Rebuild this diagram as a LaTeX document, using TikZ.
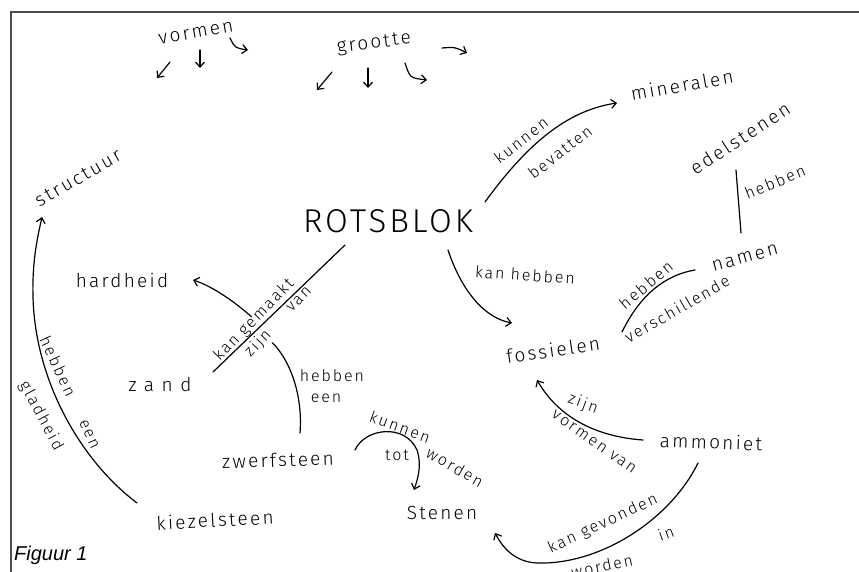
\documentclass[tikz,border=0pt]{standalone}
\usepackage{fontspec}
\setmainfont{Liberation Sans}
\newfontfamily\hand[LetterSpace=12]{Fira Sans Light}
\newfontfamily\handbig[LetterSpace=9]{Fira Sans Light}
\usetikzlibrary{arrows.meta}
\begin{document}
\begin{tikzpicture}[x=1pt,y=-1pt,
  term/.style={font=\hand\fontsize{19}{21}\selectfont, inner sep=0pt},
  lbl/.style={font=\hand\fontsize{16}{18}\selectfont, inner sep=0pt},
  con/.style={line width=1.2pt, line cap=round, line join=round},
  arr/.style={con, -{Straight Barb[length=5pt,width=9pt,line width=1.2pt]}},
]
\useasboundingbox (0,0) rectangle (859,572);
\draw[line width=2pt, color=black!70] (11,572) -- (11,12) -- (859,12);

% concepts
\node[term, rotate=10] (vormen) at (196,33) {vormen};
\node[term, rotate=7] (grootte) at (374,44) {grootte};
\node[term, rotate=30] (struct) at (78,178) {structuur};
\node[inner sep=0pt, font=\handbig\fontsize{33}{36}\selectfont] (rots) at (388,221) {ROTSBLOK};
\node[term, rotate=10] (miner) at (682,85) {mineralen};
\node[term, rotate=33] (edel) at (740,138) {edelstenen};
\node[term, rotate=15] (namen) at (745,258) {namen};
\node[term] (hard) at (122,280) {hardheid};
\node[term, font=\hand\fontsize{19}{21}\selectfont\addfontfeature{LetterSpace=40}] (zand) at (160,385) {zand};
\node[term, rotate=8] (foss) at (553,350) {fossielen};
\node[term, rotate=-2] (ammon) at (711,442) {ammoniet};
\node[term, rotate=2] (zwerf) at (278,460) {zwerfsteen};
\node[term, rotate=3] (kiezel) at (215,520) {kiezelsteen};
\node[term] (stenen) at (442,513) {Stenen};
\node[font=\itshape\fontsize{20}{22}\selectfont, anchor=west, inner sep=0pt] (fig) at (14,555) {Figuur 1};

% link labels
\node[lbl, rotate=38] (l1a) at (521,140) {kunnen};
\node[lbl, rotate=38] (l1b) at (560,152) {bevatten};
\node[lbl, rotate=-4] (l2) at (525,275) {kan hebben};
\node[lbl, rotate=40] (l3a) at (646,285) {hebben};
\node[lbl, rotate=30] (l3b) at (677,309) {verschillende};
\node[lbl, rotate=22] (l4) at (775,182) {hebben};
\node[lbl, rotate=-20] (l5a) at (583,404) {zijn};
\node[lbl, rotate=-35] (l5b) at (594,442) {vormen van};
\node[lbl, rotate=25] (l6a) at (603,524) {kan gevonden};
\node[lbl, rotate=20] (l6b) at (666,533) {in};
\node[lbl, rotate=12] (l6c) at (602,566) {worden};
\node[lbl, rotate=-20] (l7a) at (400,427) {kunnen};
\node[lbl] (l7b) at (397,455) {tot};
\node[lbl, rotate=-30] (l7c) at (455,467) {worden};
\node[lbl] (l8a) at (332,376) {hebben};
\node[lbl] (l8b) at (326,398) {een};
\node[lbl, rotate=46, anchor=south, inner sep=1pt] (l9a) at (260.5,326.2) {kan gemaakt};
\node[lbl, rotate=46, anchor=north, inner sep=1pt] (l9b) at (251.8,337.3) {zijn};
\node[lbl, rotate=46, anchor=north, inner sep=1pt] (l9c) at (295,295.7) {van};
\node[lbl, rotate=-65] (l10a) at (58,366) {hebben};
\node[lbl, rotate=-65] (l10b) at (89,434) {een};
\node[lbl, rotate=-62] (l10c) at (41,416) {gladheid};

% connector end points
\coordinate (r1) at (485,202);  \coordinate (m1) at (617,103);
\coordinate (r2) at (448,250);  \coordinate (f1) at (512,323);
\coordinate (f2) at (622,332);  \coordinate (n1) at (695,270);
\coordinate (e1) at (736,170);  \coordinate (n2) at (741,233);
\coordinate (a1) at (643,440);  \coordinate (f3) at (537,380);
\coordinate (a2) at (698,463);  \coordinate (sb) at (537,563);  \coordinate (s1) at (495,533);
\coordinate (z1) at (355,450);  \coordinate (lt) at (417,450);  \coordinate (s2) at (414,490);
\coordinate (z2) at (300,433);  \coordinate (x1) at (272.3,342.7);
\coordinate (x2) at (251.5,316.8);  \coordinate (h1) at (193,280);
\coordinate (r3) at (345,245);  \coordinate (zd) at (213,372);
\coordinate (k1) at (137,503);  \coordinate (km) at (33,297);  \coordinate (st1) at (42,217);

\draw[arr] (r1) .. controls (530,140) and (570,110) .. (m1);
\draw[arr] (r2) .. controls (462,292) and (485,318) .. (f1);
\draw[con] (f2) .. controls (640,295) and (665,275) .. (n1);
\draw[con] (e1) -- (n2);
\draw[arr] (a1) .. controls (600,437) and (560,420) .. (f3);
\draw[arr] (a2) .. controls (670,520) and (600,565) .. (sb) .. controls (515,562) and (503,548) .. (s1);
\draw[arr] (z1) .. controls (365,428) and (405,423) .. (lt) .. controls (422,465) and (418,478) .. (s2);
\draw[con] (z2) .. controls (303,395) and (290,360) .. (x1);
\draw[arr] (x2) .. controls (235,302) and (212,286) .. (h1);
\draw[con] (r3) -- (zd);
\draw[arr] (k1) .. controls (80,460) and (35,380) .. (km) .. controls (32,260) and (38,235) .. (st1);

% loose arrows under vormen and grootte
\coordinate (v1a) at (170,62);  \coordinate (v1b) at (157,78);
\coordinate (v2a) at (200,50);  \coordinate (v2b) at (200,68);
\coordinate (v3a) at (230,38);  \coordinate (v3b) at (248,50);
\coordinate (g1a) at (332,72);  \coordinate (g1b) at (317,90);
\coordinate (g2a) at (368,68);  \coordinate (g2b) at (368,88);
\coordinate (g3a) at (405,63);  \coordinate (g3b) at (427,80);
\coordinate (g4a) at (442,48);  \coordinate (g4b) at (467,53);
\draw[arr] (v1a) -- (v1b);
\draw[arr] (v2a) -- (v2b);
\draw[arr] (v3a) .. controls (235,48) .. (v3b);
\draw[arr] (g1a) -- (g1b);
\draw[arr] (g2a) -- (g2b);
\draw[arr] (g3a) .. controls (410,78) .. (g3b);
\draw[arr] (g4a) .. controls (455,47) .. (g4b);
\end{tikzpicture}
\end{document}
